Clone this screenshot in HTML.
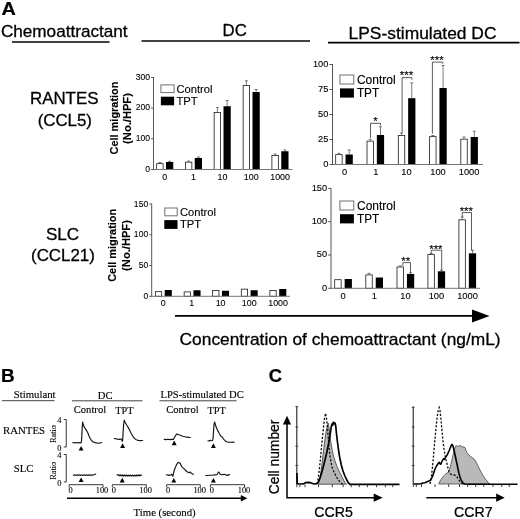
<!DOCTYPE html>
<html><head><meta charset="utf-8"><title>Figure</title>
<style>
html,body{margin:0;padding:0;background:#fff;}
body{width:520px;height:519px;overflow:hidden;font-family:"Liberation Sans",sans-serif;}
svg{display:block;filter:grayscale(1) blur(0.35px);will-change:transform;}
.ss{font-family:"Liberation Sans",sans-serif;fill:#000;stroke:#000;}
.sr{font-family:"Liberation Serif",serif;fill:#000;stroke:#000;}
</style></head><body>
<svg width="520" height="519" viewBox="0 0 520 519">
<rect x="0" y="0" width="520" height="519" fill="#fff"/>

<text class="ss" transform="translate(1.5,14.5) scale(1.1,1.0)" font-size="18" text-anchor="start" font-weight="bold" stroke-width="0.216" >A</text>
<text class="ss" x="0.9" y="37" font-size="17.15" text-anchor="start" font-weight="normal" stroke-width="0.3" >Chemoattractant</text>
<line x1="12" y1="42" x2="109.5" y2="42" stroke="#000" stroke-width="1.6"/>
<text class="ss" x="234.7" y="36.1" font-size="16.8" text-anchor="middle" font-weight="normal" stroke-width="0.294" >DC</text>
<line x1="141.5" y1="41" x2="310" y2="41" stroke="#000" stroke-width="1.5"/>
<text class="ss" x="348.6" y="38.8" font-size="17.4" text-anchor="start" font-weight="normal" stroke-width="0.304" >LPS-stimulated DC</text>
<line x1="328" y1="42.6" x2="519.5" y2="42.6" stroke="#000" stroke-width="1.6"/>
<text class="ss" transform="translate(64.2,103.8) scale(1.03,1.0)" font-size="16.4" text-anchor="middle" font-weight="normal" stroke-width="0.287" >RANTES</text>
<text class="ss" transform="translate(64.8,126.1) scale(1.03,1.0)" font-size="16.4" text-anchor="middle" font-weight="normal" stroke-width="0.287" >(CCL5)</text>
<text class="ss" transform="translate(62.5,239.6) scale(1.04,1.0)" font-size="16.4" text-anchor="middle" font-weight="normal" stroke-width="0.287" >SLC</text>
<text class="ss" transform="translate(62.9,261.3) scale(1.03,1.0)" font-size="16.4" text-anchor="middle" font-weight="normal" stroke-width="0.287" >(CCL21)</text>
<text class="ss" transform="translate(118.2,118) rotate(-90)" font-size="11.5" text-anchor="middle" font-weight="bold" stroke-width="0.138" textLength="73" lengthAdjust="spacingAndGlyphs">Cell migration</text>
<text class="ss" transform="translate(130.8,118.5) rotate(-90)" font-size="11.5" text-anchor="middle" font-weight="bold" stroke-width="0.138" textLength="50.8" lengthAdjust="spacingAndGlyphs">(No./HPF)</text>
<text class="ss" transform="translate(116.3,245.3) rotate(-90)" font-size="11.5" text-anchor="middle" font-weight="bold" stroke-width="0.138" textLength="73" lengthAdjust="spacingAndGlyphs">Cell migration</text>
<text class="ss" transform="translate(129.8,245.5) rotate(-90)" font-size="11.5" text-anchor="middle" font-weight="bold" stroke-width="0.138" textLength="50.8" lengthAdjust="spacingAndGlyphs">(No./HPF)</text>
<rect x="156.65" y="163.65" width="6.45" height="5.85" fill="#fff" stroke="#1a1a1a" stroke-width="0.8"/>
<line x1="159.875" y1="163.25" x2="159.875" y2="162.5" stroke="#444" stroke-width="0.7"/>
<line x1="158.375" y1="162.5" x2="161.375" y2="162.5" stroke="#444" stroke-width="0.7"/>
<rect x="166.0" y="162" width="7.25" height="7.5" fill="#000"/>
<line x1="169.625" y1="162" x2="169.625" y2="161.3" stroke="#444" stroke-width="0.7"/>
<line x1="168.125" y1="161.3" x2="171.125" y2="161.3" stroke="#444" stroke-width="0.7"/>
<rect x="185.4" y="162.15" width="6.45" height="7.35" fill="#fff" stroke="#1a1a1a" stroke-width="0.8"/>
<line x1="188.625" y1="161.75" x2="188.625" y2="161" stroke="#444" stroke-width="0.7"/>
<line x1="187.125" y1="161" x2="190.125" y2="161" stroke="#444" stroke-width="0.7"/>
<rect x="194.75" y="158" width="7.25" height="11.5" fill="#000"/>
<line x1="198.375" y1="158" x2="198.375" y2="157" stroke="#444" stroke-width="0.7"/>
<line x1="196.875" y1="157" x2="199.875" y2="157" stroke="#444" stroke-width="0.7"/>
<rect x="214.15" y="112.4" width="6.45" height="57.1" fill="#fff" stroke="#1a1a1a" stroke-width="0.8"/>
<line x1="217.375" y1="112" x2="217.375" y2="107.5" stroke="#444" stroke-width="0.7"/>
<line x1="215.875" y1="107.5" x2="218.875" y2="107.5" stroke="#444" stroke-width="0.7"/>
<rect x="223.5" y="106.25" width="7.25" height="63.25" fill="#000"/>
<line x1="227.125" y1="106.25" x2="227.125" y2="100.5" stroke="#444" stroke-width="0.7"/>
<line x1="225.625" y1="100.5" x2="228.625" y2="100.5" stroke="#444" stroke-width="0.7"/>
<rect x="243.15" y="85.4" width="6.45" height="84.1" fill="#fff" stroke="#1a1a1a" stroke-width="0.8"/>
<line x1="246.375" y1="85" x2="246.375" y2="80.75" stroke="#444" stroke-width="0.7"/>
<line x1="244.875" y1="80.75" x2="247.875" y2="80.75" stroke="#444" stroke-width="0.7"/>
<rect x="252.5" y="92" width="7.25" height="77.5" fill="#000"/>
<line x1="256.125" y1="92" x2="256.125" y2="89.5" stroke="#444" stroke-width="0.7"/>
<line x1="254.625" y1="89.5" x2="257.625" y2="89.5" stroke="#444" stroke-width="0.7"/>
<rect x="271.9" y="155.4" width="6.45" height="14.1" fill="#fff" stroke="#1a1a1a" stroke-width="0.8"/>
<line x1="275.125" y1="155" x2="275.125" y2="154" stroke="#444" stroke-width="0.7"/>
<line x1="273.625" y1="154" x2="276.625" y2="154" stroke="#444" stroke-width="0.7"/>
<rect x="281.25" y="151.25" width="7.25" height="18.25" fill="#000"/>
<line x1="284.875" y1="151.25" x2="284.875" y2="150" stroke="#444" stroke-width="0.7"/>
<line x1="283.375" y1="150" x2="286.375" y2="150" stroke="#444" stroke-width="0.7"/>
<line x1="153.5" y1="77.0" x2="153.5" y2="170.0" stroke="#555" stroke-width="1.0"/>
<line x1="153.0" y1="169.5" x2="292.5" y2="169.5" stroke="#777" stroke-width="1.0"/>
<line x1="151.1" y1="77.5" x2="153.5" y2="77.5" stroke="#555" stroke-width="1.0"/>
<text class="ss" transform="translate(150.0,79.75873) scale(1.0,1.07)" font-size="8.6" text-anchor="end" font-weight="normal" stroke-width="0.095" >300</text>
<line x1="151.1" y1="108.2" x2="153.5" y2="108.2" stroke="#555" stroke-width="1.0"/>
<text class="ss" transform="translate(150.0,110.45873) scale(1.0,1.07)" font-size="8.6" text-anchor="end" font-weight="normal" stroke-width="0.095" >200</text>
<line x1="151.1" y1="138.8" x2="153.5" y2="138.8" stroke="#555" stroke-width="1.0"/>
<text class="ss" transform="translate(150.0,141.05873000000003) scale(1.0,1.07)" font-size="8.6" text-anchor="end" font-weight="normal" stroke-width="0.095" >100</text>
<line x1="151.1" y1="169.5" x2="153.5" y2="169.5" stroke="#555" stroke-width="1.0"/>
<text class="ss" transform="translate(150.0,171.75873) scale(1.0,1.07)" font-size="8.6" text-anchor="end" font-weight="normal" stroke-width="0.095" >0</text>
<text class="ss" transform="translate(164.7,179.7) scale(1.0,1.04)" font-size="8.9" text-anchor="middle" font-weight="normal" stroke-width="0.098" >0</text>
<text class="ss" transform="translate(193.5,179.7) scale(1.0,1.04)" font-size="8.9" text-anchor="middle" font-weight="normal" stroke-width="0.098" >1</text>
<text class="ss" transform="translate(222.5,179.7) scale(1.0,1.04)" font-size="8.9" text-anchor="middle" font-weight="normal" stroke-width="0.098" >10</text>
<text class="ss" transform="translate(251.25,179.7) scale(1.0,1.04)" font-size="8.9" text-anchor="middle" font-weight="normal" stroke-width="0.098" >100</text>
<text class="ss" transform="translate(280.1,179.7) scale(1.0,1.04)" font-size="8.9" text-anchor="middle" font-weight="normal" stroke-width="0.098" >1000</text>
<rect x="160.9" y="84.9" width="13.2" height="7.699999999999999" fill="#fff" stroke="#707070" stroke-width="1"/>
<text class="ss" transform="translate(176.4,92.5) scale(1.0,1.04)" font-size="11.2" text-anchor="start" font-weight="normal" stroke-width="0.123" >Control</text>
<rect x="160.9" y="96.7" width="13.2" height="8.6" fill="#000"/>
<text class="ss" transform="translate(176.4,104.8) scale(1.0,1.04)" font-size="11.2" text-anchor="start" font-weight="normal" stroke-width="0.123" >TPT</text>
<rect x="335.7" y="154.65" width="6.45" height="9.85" fill="#fff" stroke="#1a1a1a" stroke-width="0.8"/>
<line x1="338.925" y1="154.25" x2="338.925" y2="153.3" stroke="#444" stroke-width="0.7"/>
<line x1="337.425" y1="153.3" x2="340.425" y2="153.3" stroke="#444" stroke-width="0.7"/>
<rect x="345.55" y="154.5" width="7.25" height="10.0" fill="#000"/>
<line x1="349.175" y1="154.5" x2="349.175" y2="150" stroke="#444" stroke-width="0.7"/>
<line x1="347.675" y1="150" x2="350.675" y2="150" stroke="#444" stroke-width="0.7"/>
<rect x="367.0" y="141.15" width="6.45" height="23.35" fill="#fff" stroke="#1a1a1a" stroke-width="0.8"/>
<line x1="370.225" y1="140.75" x2="370.225" y2="139.25" stroke="#444" stroke-width="0.7"/>
<line x1="368.725" y1="139.25" x2="371.725" y2="139.25" stroke="#444" stroke-width="0.7"/>
<rect x="376.85" y="135" width="7.25" height="29.5" fill="#000"/>
<line x1="380.475" y1="135" x2="380.475" y2="126.75" stroke="#444" stroke-width="0.7"/>
<line x1="378.975" y1="126.75" x2="381.975" y2="126.75" stroke="#444" stroke-width="0.7"/>
<rect x="398.29999999999995" y="135.4" width="6.45" height="29.1" fill="#fff" stroke="#1a1a1a" stroke-width="0.8"/>
<line x1="401.525" y1="135" x2="401.525" y2="133" stroke="#444" stroke-width="0.7"/>
<line x1="400.025" y1="133" x2="403.025" y2="133" stroke="#444" stroke-width="0.7"/>
<rect x="408.15" y="98.2" width="7.25" height="66.3" fill="#000"/>
<line x1="411.775" y1="98.2" x2="411.775" y2="82.9" stroke="#444" stroke-width="0.7"/>
<line x1="410.275" y1="82.9" x2="413.275" y2="82.9" stroke="#444" stroke-width="0.7"/>
<rect x="429.59999999999997" y="136.65" width="6.45" height="27.85" fill="#fff" stroke="#1a1a1a" stroke-width="0.8"/>
<line x1="432.825" y1="136.25" x2="432.825" y2="135.5" stroke="#444" stroke-width="0.7"/>
<line x1="431.325" y1="135.5" x2="434.325" y2="135.5" stroke="#444" stroke-width="0.7"/>
<rect x="439.45" y="88" width="7.25" height="76.5" fill="#000"/>
<line x1="443.075" y1="88" x2="443.075" y2="65.5" stroke="#444" stroke-width="0.7"/>
<line x1="441.575" y1="65.5" x2="444.575" y2="65.5" stroke="#444" stroke-width="0.7"/>
<rect x="460.79999999999995" y="139.15" width="6.45" height="25.35" fill="#fff" stroke="#1a1a1a" stroke-width="0.8"/>
<line x1="464.025" y1="138.75" x2="464.025" y2="137" stroke="#444" stroke-width="0.7"/>
<line x1="462.525" y1="137" x2="465.525" y2="137" stroke="#444" stroke-width="0.7"/>
<rect x="470.65" y="137" width="7.25" height="27.5" fill="#000"/>
<line x1="474.275" y1="137" x2="474.275" y2="131.25" stroke="#444" stroke-width="0.7"/>
<line x1="472.775" y1="131.25" x2="475.775" y2="131.25" stroke="#444" stroke-width="0.7"/>
<line x1="332.5" y1="64.0" x2="332.5" y2="165.0" stroke="#555" stroke-width="1.0"/>
<line x1="332.0" y1="164.5" x2="483" y2="164.5" stroke="#777" stroke-width="1.0"/>
<line x1="329.4" y1="64.5" x2="332.5" y2="64.5" stroke="#555" stroke-width="1.0"/>
<text class="ss" transform="translate(328.4,66.682115) scale(1.0,1.07)" font-size="9.3" text-anchor="end" font-weight="normal" stroke-width="0.102" >100</text>
<line x1="329.4" y1="89.5" x2="332.5" y2="89.5" stroke="#555" stroke-width="1.0"/>
<text class="ss" transform="translate(328.4,91.682115) scale(1.0,1.07)" font-size="9.3" text-anchor="end" font-weight="normal" stroke-width="0.102" >75</text>
<line x1="329.4" y1="114.5" x2="332.5" y2="114.5" stroke="#555" stroke-width="1.0"/>
<text class="ss" transform="translate(328.4,116.682115) scale(1.0,1.07)" font-size="9.3" text-anchor="end" font-weight="normal" stroke-width="0.102" >50</text>
<line x1="329.4" y1="139.5" x2="332.5" y2="139.5" stroke="#555" stroke-width="1.0"/>
<text class="ss" transform="translate(328.4,141.682115) scale(1.0,1.07)" font-size="9.3" text-anchor="end" font-weight="normal" stroke-width="0.102" >25</text>
<line x1="329.4" y1="164.5" x2="332.5" y2="164.5" stroke="#555" stroke-width="1.0"/>
<text class="ss" transform="translate(328.4,166.682115) scale(1.0,1.07)" font-size="9.3" text-anchor="end" font-weight="normal" stroke-width="0.102" >0</text>
<text class="ss" transform="translate(344.6,174.65) scale(1.0,1.04)" font-size="9.3" text-anchor="middle" font-weight="normal" stroke-width="0.102" >0</text>
<text class="ss" transform="translate(375.75,174.65) scale(1.0,1.04)" font-size="9.3" text-anchor="middle" font-weight="normal" stroke-width="0.102" >1</text>
<text class="ss" transform="translate(406.5,174.65) scale(1.0,1.04)" font-size="9.3" text-anchor="middle" font-weight="normal" stroke-width="0.102" >10</text>
<text class="ss" transform="translate(438,174.65) scale(1.0,1.04)" font-size="9.3" text-anchor="middle" font-weight="normal" stroke-width="0.102" >100</text>
<text class="ss" transform="translate(469.1,174.65) scale(1.0,1.04)" font-size="9.3" text-anchor="middle" font-weight="normal" stroke-width="0.102" >1000</text>
<rect x="339.9" y="75.0" width="13.9" height="9" fill="#fff" stroke="#707070" stroke-width="1"/>
<text class="ss" transform="translate(356.9,83.8) scale(1.0,1.02)" font-size="12.0" text-anchor="start" font-weight="normal" stroke-width="0.132" >Control</text>
<rect x="340" y="88.4" width="13.9" height="9.2" fill="#000"/>
<text class="ss" transform="translate(356.9,97.1) scale(1.0,1.02)" font-size="11.8" text-anchor="start" font-weight="normal" stroke-width="0.13" >TPT</text>
<polyline points="370.5,138 370.5,123.3 380.5,123.3 380.5,125.5" fill="none" stroke="#333" stroke-width="0.8"/>
<text class="ss" x="375.5" y="124.9" font-size="11.4" text-anchor="middle" font-weight="normal" stroke-width="0.125" >*</text>
<polyline points="402.1,132.5 402.1,77.6 411.9,77.6 411.9,79.8" fill="none" stroke="#333" stroke-width="0.8"/>
<text class="ss" x="406.5" y="79.2" font-size="11.4" text-anchor="middle" font-weight="normal" stroke-width="0.125" >***</text>
<polyline points="432.4,133.75 432.4,62.1 442.8,62.1 442.8,63.7" fill="none" stroke="#333" stroke-width="0.8"/>
<text class="ss" x="437" y="63.7" font-size="11.4" text-anchor="middle" font-weight="normal" stroke-width="0.125" >***</text>
<rect x="155.4" y="291.65" width="6.3" height="4.650000000000011" fill="#fff" stroke="#1a1a1a" stroke-width="0.8"/>
<rect x="164.7" y="290" width="7.1" height="6.300000000000011" fill="#000"/>
<rect x="184.15" y="291.9" width="6.3" height="4.400000000000011" fill="#fff" stroke="#1a1a1a" stroke-width="0.8"/>
<rect x="193.45" y="290.25" width="7.1" height="6.050000000000011" fill="#000"/>
<rect x="212.65" y="290.4" width="6.3" height="5.900000000000011" fill="#fff" stroke="#1a1a1a" stroke-width="0.8"/>
<rect x="221.95" y="290.75" width="7.1" height="5.550000000000011" fill="#000"/>
<rect x="241.3" y="289.15" width="6.3" height="7.150000000000011" fill="#fff" stroke="#1a1a1a" stroke-width="0.8"/>
<rect x="250.6" y="290.25" width="7.1" height="6.050000000000011" fill="#000"/>
<rect x="269.9" y="290.4" width="6.3" height="5.900000000000011" fill="#fff" stroke="#1a1a1a" stroke-width="0.8"/>
<rect x="279.2" y="289" width="7.1" height="7.300000000000011" fill="#000"/>
<line x1="151.7" y1="203.5" x2="151.7" y2="296.8" stroke="#555" stroke-width="1.0"/>
<line x1="151.2" y1="296.3" x2="290" y2="296.3" stroke="#777" stroke-width="1.0"/>
<line x1="149.29999999999998" y1="204" x2="151.7" y2="204" stroke="#555" stroke-width="1.0"/>
<text class="ss" transform="translate(148.2,206.55873) scale(1.0,1.07)" font-size="8.6" text-anchor="end" font-weight="normal" stroke-width="0.095" >150</text>
<line x1="149.29999999999998" y1="234.8" x2="151.7" y2="234.8" stroke="#555" stroke-width="1.0"/>
<text class="ss" transform="translate(148.2,237.35873) scale(1.0,1.07)" font-size="8.6" text-anchor="end" font-weight="normal" stroke-width="0.095" >100</text>
<line x1="149.29999999999998" y1="265.5" x2="151.7" y2="265.5" stroke="#555" stroke-width="1.0"/>
<text class="ss" transform="translate(148.2,268.05872999999997) scale(1.0,1.07)" font-size="8.6" text-anchor="end" font-weight="normal" stroke-width="0.095" >50</text>
<line x1="149.29999999999998" y1="296.3" x2="151.7" y2="296.3" stroke="#555" stroke-width="1.0"/>
<text class="ss" transform="translate(148.2,298.85873) scale(1.0,1.07)" font-size="8.6" text-anchor="end" font-weight="normal" stroke-width="0.095" >0</text>
<text class="ss" transform="translate(163.1,306.4) scale(1.0,1.04)" font-size="8.9" text-anchor="middle" font-weight="normal" stroke-width="0.098" >0</text>
<text class="ss" transform="translate(191.75,306.4) scale(1.0,1.04)" font-size="8.9" text-anchor="middle" font-weight="normal" stroke-width="0.098" >1</text>
<text class="ss" transform="translate(220.6,306.4) scale(1.0,1.04)" font-size="8.9" text-anchor="middle" font-weight="normal" stroke-width="0.098" >10</text>
<text class="ss" transform="translate(249.25,306.4) scale(1.0,1.04)" font-size="8.9" text-anchor="middle" font-weight="normal" stroke-width="0.098" >100</text>
<text class="ss" transform="translate(278.1,306.4) scale(1.0,1.04)" font-size="8.9" text-anchor="middle" font-weight="normal" stroke-width="0.098" >1000</text>
<rect x="164.8" y="208.0" width="12.4" height="7.800000000000001" fill="#fff" stroke="#707070" stroke-width="1"/>
<text class="ss" transform="translate(179.9,215.7) scale(1.0,1.04)" font-size="11.2" text-anchor="start" font-weight="normal" stroke-width="0.123" >Control</text>
<rect x="164.3" y="220.1" width="13.2" height="8.8" fill="#000"/>
<text class="ss" transform="translate(179.9,227.9) scale(1.0,1.04)" font-size="11.2" text-anchor="start" font-weight="normal" stroke-width="0.123" >TPT</text>
<rect x="334.7" y="279.7" width="6.45" height="8.6" fill="#fff" stroke="#1a1a1a" stroke-width="0.8"/>
<rect x="344.65000000000003" y="279" width="7.25" height="9.300000000000011" fill="#000"/>
<rect x="365.79999999999995" y="274.9" width="6.45" height="13.400000000000011" fill="#fff" stroke="#1a1a1a" stroke-width="0.8"/>
<line x1="369.025" y1="274.5" x2="369.025" y2="273.3" stroke="#444" stroke-width="0.7"/>
<line x1="367.525" y1="273.3" x2="370.525" y2="273.3" stroke="#444" stroke-width="0.7"/>
<rect x="375.75" y="277.5" width="7.25" height="10.800000000000011" fill="#000"/>
<rect x="397.0" y="267.0" width="6.45" height="21.29999999999999" fill="#fff" stroke="#1a1a1a" stroke-width="0.8"/>
<line x1="400.225" y1="266.6" x2="400.225" y2="265.8" stroke="#444" stroke-width="0.7"/>
<line x1="398.725" y1="265.8" x2="401.725" y2="265.8" stroke="#444" stroke-width="0.7"/>
<rect x="406.95000000000005" y="274" width="7.25" height="14.300000000000011" fill="#000"/>
<line x1="410.57500000000005" y1="274" x2="410.57500000000005" y2="272.7" stroke="#444" stroke-width="0.7"/>
<line x1="409.07500000000005" y1="272.7" x2="412.07500000000005" y2="272.7" stroke="#444" stroke-width="0.7"/>
<rect x="427.9" y="254.6" width="6.45" height="33.700000000000024" fill="#fff" stroke="#1a1a1a" stroke-width="0.8"/>
<line x1="431.125" y1="254.2" x2="431.125" y2="253.4" stroke="#444" stroke-width="0.7"/>
<line x1="429.625" y1="253.4" x2="432.625" y2="253.4" stroke="#444" stroke-width="0.7"/>
<rect x="437.85" y="271.3" width="7.25" height="17.0" fill="#000"/>
<line x1="441.475" y1="271.3" x2="441.475" y2="270.1" stroke="#444" stroke-width="0.7"/>
<line x1="439.975" y1="270.1" x2="442.975" y2="270.1" stroke="#444" stroke-width="0.7"/>
<rect x="458.9" y="219.8" width="6.45" height="68.5" fill="#fff" stroke="#1a1a1a" stroke-width="0.8"/>
<line x1="462.125" y1="219.4" x2="462.125" y2="217" stroke="#444" stroke-width="0.7"/>
<line x1="460.625" y1="217" x2="463.625" y2="217" stroke="#444" stroke-width="0.7"/>
<rect x="468.85" y="253.3" width="7.25" height="35.0" fill="#000"/>
<line x1="472.475" y1="253.3" x2="472.475" y2="250.2" stroke="#444" stroke-width="0.7"/>
<line x1="470.975" y1="250.2" x2="473.975" y2="250.2" stroke="#444" stroke-width="0.7"/>
<line x1="331" y1="187.9" x2="331" y2="288.8" stroke="#555" stroke-width="1.0"/>
<line x1="330.5" y1="288.3" x2="480" y2="288.3" stroke="#777" stroke-width="1.0"/>
<line x1="328.2" y1="188.4" x2="331" y2="188.4" stroke="#555" stroke-width="1.0"/>
<text class="ss" transform="translate(327.2,190.83211500000002) scale(1.0,1.07)" font-size="9.3" text-anchor="end" font-weight="normal" stroke-width="0.102" >150</text>
<line x1="328.2" y1="221.7" x2="331" y2="221.7" stroke="#555" stroke-width="1.0"/>
<text class="ss" transform="translate(327.2,224.132115) scale(1.0,1.07)" font-size="9.3" text-anchor="end" font-weight="normal" stroke-width="0.102" >100</text>
<line x1="328.2" y1="255" x2="331" y2="255" stroke="#555" stroke-width="1.0"/>
<text class="ss" transform="translate(327.2,257.432115) scale(1.0,1.07)" font-size="9.3" text-anchor="end" font-weight="normal" stroke-width="0.102" >50</text>
<line x1="328.2" y1="288.3" x2="331" y2="288.3" stroke="#555" stroke-width="1.0"/>
<text class="ss" transform="translate(327.2,290.732115) scale(1.0,1.07)" font-size="9.3" text-anchor="end" font-weight="normal" stroke-width="0.102" >0</text>
<text class="ss" transform="translate(343.2,299.45) scale(1.0,1.04)" font-size="9.3" text-anchor="middle" font-weight="normal" stroke-width="0.102" >0</text>
<text class="ss" transform="translate(374.25,299.45) scale(1.0,1.04)" font-size="9.3" text-anchor="middle" font-weight="normal" stroke-width="0.102" >1</text>
<text class="ss" transform="translate(405.5,299.45) scale(1.0,1.04)" font-size="9.3" text-anchor="middle" font-weight="normal" stroke-width="0.102" >10</text>
<text class="ss" transform="translate(436.4,299.45) scale(1.0,1.04)" font-size="9.3" text-anchor="middle" font-weight="normal" stroke-width="0.102" >100</text>
<text class="ss" transform="translate(467.5,299.45) scale(1.0,1.04)" font-size="9.3" text-anchor="middle" font-weight="normal" stroke-width="0.102" >1000</text>
<rect x="339.9" y="201.0" width="13.9" height="9" fill="#fff" stroke="#707070" stroke-width="1"/>
<text class="ss" transform="translate(357,209.8) scale(1.0,1.02)" font-size="12.0" text-anchor="start" font-weight="normal" stroke-width="0.132" >Control</text>
<rect x="340" y="214.2" width="13.9" height="9.2" fill="#000"/>
<text class="ss" transform="translate(357,223.1) scale(1.0,1.02)" font-size="11.8" text-anchor="start" font-weight="normal" stroke-width="0.13" >TPT</text>
<polyline points="402.9,265.8 402.9,262.6 410.5,262.6 410.5,272.7" fill="none" stroke="#333" stroke-width="0.8"/>
<text class="ss" x="405.8" y="265.1" font-size="11.4" text-anchor="middle" font-weight="normal" stroke-width="0.125" >**</text>
<polyline points="431.2,253.4 431.2,250.2 441.7,250.2 441.7,270.1" fill="none" stroke="#333" stroke-width="0.8"/>
<text class="ss" x="435.9" y="252.7" font-size="11.4" text-anchor="middle" font-weight="normal" stroke-width="0.125" >***</text>
<polyline points="462.3,217 462.3,212.5 471.5,212.5 471.5,250.2" fill="none" stroke="#333" stroke-width="0.8"/>
<text class="ss" x="466.3" y="215.0" font-size="11.4" text-anchor="middle" font-weight="normal" stroke-width="0.125" >***</text>
<line x1="175" y1="315.8" x2="474" y2="315.8" stroke="#000" stroke-width="1.7"/>
<polygon points="472,309.5 489.5,316 472,322.5" fill="#000"/>
<text class="ss" x="179.6" y="345.4" font-size="17.35" text-anchor="start" font-weight="normal" stroke-width="0.304" >Concentration of chemoattractant (ng/mL)</text>
<text class="ss" transform="translate(0.9,381.7) scale(1.08,1.0)" font-size="17.5" text-anchor="start" font-weight="bold" stroke-width="0.21" >B</text>
<text class="sr" x="13.75" y="398" font-size="10.75" text-anchor="start" font-weight="normal" stroke-width="0.129" >Stimulant</text>
<line x1="2" y1="400.7" x2="54.5" y2="400.7" stroke="#444" stroke-width="1"/>
<text class="sr" x="105.2" y="398.5" font-size="10.6" text-anchor="middle" font-weight="normal" stroke-width="0.127" >DC</text>
<line x1="72" y1="400.8" x2="142.5" y2="400.8" stroke="#444" stroke-width="1"/>
<text class="sr" x="160.5" y="398.4" font-size="10.6" text-anchor="start" font-weight="normal" stroke-width="0.127" >LPS-stimulated DC</text>
<line x1="159.5" y1="400.8" x2="236.5" y2="400.8" stroke="#444" stroke-width="1"/>
<text class="sr" x="73.75" y="412.6" font-size="10.6" text-anchor="start" font-weight="normal" stroke-width="0.127" >Control</text>
<text class="sr" x="115.3" y="414.2" font-size="10.3" text-anchor="start" font-weight="normal" stroke-width="0.124" >TPT</text>
<text class="sr" x="166.25" y="412.6" font-size="10.6" text-anchor="start" font-weight="normal" stroke-width="0.127" >Control</text>
<text class="sr" x="207.5" y="414.2" font-size="10.3" text-anchor="start" font-weight="normal" stroke-width="0.124" >TPT</text>
<text class="sr" x="3" y="434.4" font-size="10.8" text-anchor="start" font-weight="normal" stroke-width="0.13" >RANTES</text>
<text class="sr" x="13.75" y="472" font-size="10.8" text-anchor="start" font-weight="normal" stroke-width="0.13" >SLC</text>
<text class="sr" transform="translate(55.8,434) rotate(-90)" font-size="8.3" text-anchor="middle" font-weight="normal" stroke-width="0.1">Ratio</text>
<text class="sr" transform="translate(55.8,470.8) rotate(-90)" font-size="8.3" text-anchor="middle" font-weight="normal" stroke-width="0.1">Ratio</text>
<polyline points="63.75,419.5 66.25,419.5 66.25,447 63.75,447" fill="none" stroke="#222" stroke-width="0.9"/>
<text class="sr" x="59.25" y="423.4" font-size="8.4" text-anchor="middle" font-weight="normal" stroke-width="0.101" >4</text>
<text class="sr" x="59.25" y="451.1" font-size="8.4" text-anchor="middle" font-weight="normal" stroke-width="0.101" >0</text>
<polyline points="63.75,454.5 66.25,454.5 66.25,482 63.75,482" fill="none" stroke="#222" stroke-width="0.9"/>
<text class="sr" x="59.25" y="458.4" font-size="8.4" text-anchor="middle" font-weight="normal" stroke-width="0.101" >4</text>
<text class="sr" x="59.25" y="486.1" font-size="8.4" text-anchor="middle" font-weight="normal" stroke-width="0.101" >0</text>
<polyline points="69.1,487.2 69.1,484.7 103,484.7 103,487.2" fill="none" stroke="#222" stroke-width="0.9"/>
<text class="sr" x="70.6" y="493.2" font-size="8.4" text-anchor="middle" font-weight="normal" stroke-width="0.101" >0</text>
<text class="sr" x="102" y="493.2" font-size="8.4" text-anchor="middle" font-weight="normal" stroke-width="0.101" >100</text>
<polyline points="112.3,487.2 112.3,484.7 146.3,484.7 146.3,487.2" fill="none" stroke="#222" stroke-width="0.9"/>
<text class="sr" x="113.8" y="493.2" font-size="8.4" text-anchor="middle" font-weight="normal" stroke-width="0.101" >0</text>
<text class="sr" x="145.6" y="493.2" font-size="8.4" text-anchor="middle" font-weight="normal" stroke-width="0.101" >100</text>
<polyline points="166.7,487.2 166.7,484.7 200.3,484.7 200.3,487.2" fill="none" stroke="#222" stroke-width="0.9"/>
<text class="sr" x="168.2" y="493.2" font-size="8.4" text-anchor="middle" font-weight="normal" stroke-width="0.101" >0</text>
<text class="sr" x="199.7" y="493.2" font-size="8.4" text-anchor="middle" font-weight="normal" stroke-width="0.101" >100</text>
<polyline points="210.4,487.2 210.4,484.7 244.5,484.7 244.5,487.2" fill="none" stroke="#222" stroke-width="0.9"/>
<text class="sr" x="211.9" y="493.2" font-size="8.4" text-anchor="middle" font-weight="normal" stroke-width="0.101" >0</text>
<text class="sr" x="244" y="493.2" font-size="8.4" text-anchor="middle" font-weight="normal" stroke-width="0.101" >100</text>
<line x1="67" y1="498.2" x2="242" y2="498.2" stroke="#000" stroke-width="1.5"/>
<polygon points="240.8,494.9 247.4,498.2 240.8,501.5" fill="#000"/>
<text class="sr" x="133.6" y="515.7" font-size="10.75" text-anchor="start" font-weight="normal" stroke-width="0.129" >Time (second)</text>
<polyline points="72.9,442.8 74.2,442.5 75.4,443 76.6,442.5 77.8,443 79,442.5 80.2,442.9 81.2,442.6 81.6,440 82,431 82.6,422 83.3,424.5 84.2,427.1 85.2,428.4 86.2,430.2 87.1,431.5 88,433.2 88.8,435.5 89.5,437.1 90.3,438.6 91.1,439.8 92.2,441.2 93.4,442 95,442.6 96.5,442.9 98,443.1 99.6,443.2 100.8,442.7 101.8,442.5" fill="none" stroke="#111" stroke-width="1.15" stroke-linejoin="round" stroke-linecap="round"/>
<polygon points="78.64999999999999,450.5 81.1,445.9 83.55,450.5" fill="#000"/>
<polyline points="114.5,438.6 116,438.8 117.5,439.3 118.8,439.4 120,439.1 121.2,439 121.8,440.2 122.2,441.4 122.7,440 123.1,432 123.7,424 124.2,420.2 125.2,422.5 126.5,424.8 127.6,426.5 128.8,428.6 130,431 131.1,433.2 132.2,435.2 133.4,437.1 134.5,438.4 135.7,439.4 137.2,440.1 138.8,440.5 140.5,440.6 142.6,440.5" fill="none" stroke="#111" stroke-width="1.15" stroke-linejoin="round" stroke-linecap="round"/>
<polygon points="120.14999999999999,447.90000000000003 122.6,443.3 125.05,447.90000000000003" fill="#000"/>
<polyline points="73.4,475.2 74.6,474.8 75.8,475.4 77,474.8 78.2,475.4 79.4,474.8 80.6,475.4 81.8,474.8 83,475.4 84.2,474.8 85.4,475.4 86.6,474.8 87.8,475.4 89,474.8 90.2,475.4 91.4,474.8 92.6,475.3 93.8,474.7 94.8,474.5 95.7,474.0" fill="none" stroke="#111" stroke-width="1.15" stroke-linejoin="round" stroke-linecap="round"/>
<polygon points="78.64999999999999,482.1 81.1,477.5 83.55,482.1" fill="#000"/>
<polyline points="117.2,474.9 118.4,475.0 119.4,475.6 120.4,475.0 121.4,475.8 122.4,475.1 123.4,475.9 124.4,475.1 125.4,475.8 126.4,475.2 127.4,475.9 128.4,475.2 129.4,475.9 130.4,475.2 131.4,475.9 132.4,475.2 133.4,475.9 134.4,475.2 135.4,475.9 136.4,475.2 137.4,475.8 138.4,475.1 139.4,475.7 140.3,475.1 141.1,475.3" fill="none" stroke="#111" stroke-width="1.4" stroke-linejoin="round" stroke-linecap="round"/>
<polygon points="119.75,482.40000000000003 122.2,477.8 124.65,482.40000000000003" fill="#000"/>
<polyline points="164.2,439.4 166,439.6 168,439.3 170,439.6 172,439.4 173.4,439.4 174.2,438 175.2,436.2 176.2,434.6 176.8,434 177.8,434.3 179,434.8 181,435.5 183,436.2 184.9,436.8 187,437.1 189,437.4 190.3,437.5" fill="none" stroke="#111" stroke-width="1.15" stroke-linejoin="round" stroke-linecap="round"/>
<polygon points="171.75,445.20000000000005 174.2,440.6 176.64999999999998,445.20000000000005" fill="#000"/>
<polyline points="166.5,474.8 168,475.1 169.5,475.4 170.8,474.8 171.8,474.3 172.4,475.5 172.9,476.3 173.4,474 174.2,470.5 175,468.3 175.7,466.6 176.7,464.5 177.7,462.8 178.8,462.4 179.6,462.9 180.3,463.5 181,465.2 181.8,466.6 183,467.8 184.2,468.9 185.3,470.2 186.5,471.2 187.6,472.1 188.8,472.8 189.6,472.2 190.3,472 191,473 191.8,473.5 192.6,474 193.4,474.3" fill="none" stroke="#111" stroke-width="1.15" stroke-linejoin="round" stroke-linecap="round"/>
<polygon points="171.35000000000002,482.5 173.8,477.9 176.25,482.5" fill="#000"/>
<polyline points="208,440.9 209.2,441 210.2,440.3 211.2,440.8 212.6,440.5 213.1,438 213.6,430 214.1,424 214.6,422 215.3,424.5 216.2,427.1 217.1,429.2 218,430.9 218.8,432.6 219.5,434 220.5,435.5 221.4,436.8 222.3,437 223.2,438.5 224.2,439.8 225.3,440.9 226.5,441.7 228.4,442.1 230.3,442.2 232.2,442.4 233.4,442 234.2,442.2" fill="none" stroke="#111" stroke-width="1.15" stroke-linejoin="round" stroke-linecap="round"/>
<polygon points="210.95000000000002,447.90000000000003 213.4,443.3 215.85,447.90000000000003" fill="#000"/>
<polyline points="205.7,475.5 207.5,475.5 209.5,475.3 211.5,475.2 213.5,475 215,474.9 216.5,474.8 217.5,473.8 218.3,472.3 218.8,472 219.4,473 220.3,474.3 221.5,474.7 222.6,474.8 223.8,474.4 225,474.5 226.2,475.1 227.2,475.4 228.4,474.9 229.5,474.6" fill="none" stroke="#111" stroke-width="1.15" stroke-linejoin="round" stroke-linecap="round"/>
<polygon points="210.95000000000002,482.5 213.4,477.9 215.85,482.5" fill="#000"/>
<text class="ss" x="268.8" y="381.8" font-size="18.4" text-anchor="start" font-weight="bold" stroke-width="0.221" >C</text>
<text class="ss" transform="translate(279.3,456.9) rotate(-90)" font-size="14.1" text-anchor="middle" font-weight="normal" stroke-width="0.247" textLength="74.6" lengthAdjust="spacingAndGlyphs">Cell number</text>
<polyline points="287,424 287,497.7 374.5,497.7" fill="none" stroke="#000" stroke-width="1.5"/>
<polygon points="282.9,424.5 287,415.7 291.1,424.5" fill="#000"/>
<polygon points="373.7,493.6 382.7,497.7 373.7,501.8" fill="#000"/>
<text class="ss" x="333.6" y="517.1" font-size="14.15" text-anchor="middle" font-weight="normal" stroke-width="0.248" >CCR5</text>
<line x1="426.3" y1="497.7" x2="497" y2="497.7" stroke="#000" stroke-width="1.5"/>
<polygon points="496.2,493.6 504.7,497.7 496.2,501.8" fill="#000"/>
<text class="ss" x="473.3" y="517.1" font-size="14.15" text-anchor="middle" font-weight="normal" stroke-width="0.248" >CCR7</text>
<line x1="296.8" y1="406.2" x2="296.8" y2="484.8" stroke="#222" stroke-width="1.1"/>
<line x1="295.4" y1="406.7" x2="298.2" y2="406.7" stroke="#333" stroke-width="0.9"/>
<line x1="295.4" y1="427" x2="298.2" y2="427" stroke="#333" stroke-width="0.9"/>
<line x1="295.4" y1="446.2" x2="298.2" y2="446.2" stroke="#333" stroke-width="0.9"/>
<line x1="295.4" y1="465.5" x2="298.2" y2="465.5" stroke="#333" stroke-width="0.9"/>
<path d="M318,484.2 L319.3,481 L320.6,474 L322,464 L323.4,452 L324.9,440 L326.2,431 L327.3,426 L328.1,423 L329,427 L329.8,435 L330.5,440 L331.5,446 L333,454 L335,461 L337,466.5 L339,471 L341,475 L343,479 L345,482.5 L346.5,484.2 Z" fill="#b6b6b6" stroke="#222" stroke-width="0.7"/>
<path d="M317,484.2 L318.3,478 L319.5,468 L320.8,455 L322,442 L323.2,430 L324.3,420 L325.5,413.2 L326.5,418 L327.5,428 L328.5,440 L329.5,452 L330.8,461 L332,467 L334,472 L336,476 L338,479.5 L340,482 L342.5,484.2" fill="none" stroke="#111" stroke-width="1.3" stroke-dasharray="2.2,1.6"/>
<path d="M296.9,473 L297.2,483.5 L299,484 L302,484 L304,483.6 L306,482.6 L309,482.4 L312,483.2 L314,484 L316.5,483.6 L318,482.3 L319.3,480 L320.6,476.3 L322,471.5 L323.6,465.5 L325.2,459 L326.9,452 L328.5,444 L329.9,436 L331,428.5 L331.9,424 L332.6,425.3 L333.4,422.2 L334.3,423.8 L335.1,423.2 L335.8,426.5 L336.3,432 L337.1,439 L338.3,448.5 L339.7,457.5 L341.3,465 L343,471 L344.9,476 L346.8,480 L348.5,483 L350,484.3 L355,484.4 L399.5,484.4" fill="none" stroke="#000" stroke-width="1.7" stroke-linejoin="round"/>
<line x1="296.9" y1="484.5" x2="296.9" y2="487.2" stroke="#222" stroke-width="0.9"/>
<line x1="299.9" y1="484.5" x2="299.9" y2="487.2" stroke="#222" stroke-width="0.9"/>
<line x1="305" y1="484.5" x2="305" y2="487.2" stroke="#222" stroke-width="0.9"/>
<line x1="318.5" y1="484.5" x2="318.5" y2="487.2" stroke="#222" stroke-width="0.9"/>
<line x1="332.3" y1="484.5" x2="332.3" y2="487.2" stroke="#222" stroke-width="0.9"/>
<line x1="343.1" y1="484.5" x2="343.1" y2="487.2" stroke="#222" stroke-width="0.9"/>
<line x1="351.2" y1="484.5" x2="351.2" y2="487.2" stroke="#222" stroke-width="0.9"/>
<line x1="359.3" y1="484.5" x2="359.3" y2="487.2" stroke="#222" stroke-width="0.9"/>
<line x1="367.4" y1="484.5" x2="367.4" y2="487.2" stroke="#222" stroke-width="0.9"/>
<line x1="376.6" y1="484.5" x2="376.6" y2="487.2" stroke="#222" stroke-width="0.9"/>
<line x1="385.4" y1="484.5" x2="385.4" y2="487.2" stroke="#222" stroke-width="0.9"/>
<line x1="392.8" y1="484.5" x2="392.8" y2="487.2" stroke="#222" stroke-width="0.9"/>
<line x1="413.2" y1="406.4" x2="413.2" y2="484.6" stroke="#222" stroke-width="1.1"/>
<line x1="411.8" y1="407.3" x2="414.6" y2="407.3" stroke="#333" stroke-width="0.9"/>
<line x1="411.8" y1="427" x2="414.6" y2="427" stroke="#333" stroke-width="0.9"/>
<line x1="411.8" y1="446.2" x2="414.6" y2="446.2" stroke="#333" stroke-width="0.9"/>
<line x1="411.8" y1="465.5" x2="414.6" y2="465.5" stroke="#333" stroke-width="0.9"/>
<path d="M438.7,484 L440,481 L442,478 L444,475.5 L446,473.5 L447.5,473 L448.8,471.5 L450,468 L451.5,462 L453,455 L454.5,449 L456,445.5 L457.5,446.5 L459,445.5 L461,446 L463,447 L465,447.5 L466.5,452 L468,454 L470,456 L472,457.5 L474,459 L475.5,461 L477,464 L479,468 L481,472 L483,475.5 L485,478.5 L487,481 L489,483.5 L490,484 Z" fill="#b9b9b9" stroke="#333" stroke-width="0.7"/>
<path d="M430,484 L431.2,478 L432.4,468 L433.6,455 L434.8,441 L436,428 L437.2,417 L438.3,409.5 L439.2,407.5 L440,410.5 L441,420 L442,431 L443,441 L444,449 L445,455 L446,460 L447.3,465 L448.8,471.5 L450.5,474 L452.5,474.8 L455,475.2 L457,477 L459,480 L461,482.5 L462.5,484" fill="none" stroke="#111" stroke-width="1.3" stroke-dasharray="2.2,1.6"/>
<path d="M413.5,484 L418,484 L421,483.8 L423,483 L425,482.8 L427,481.8 L429,481 L430.5,480.2 L431.5,478.5 L432.5,476.5 L433.5,473.5 L434.5,470.5 L435.5,468 L436.5,466 L437.5,464.5 L438.5,463 L439.3,462.3 L440,463.7 L440.8,464.2 L441.7,462 L442.7,460 L443.7,458.8 L444.6,459.2 L445.5,457.5 L446.5,455.8 L447.5,454.4 L448.3,452.5 L449.2,450.5 L450.2,448 L451.2,445.5 L452,444.4 L452.8,445.5 L453.5,448 L454.3,451.5 L455.2,455.5 L456,459.5 L457,464 L458,469 L459,473.5 L460,477 L461,479.5 L462,481.5 L463,483 L464.5,484 L470,484.2 L517.5,484.2" fill="none" stroke="#000" stroke-width="1.6" stroke-linejoin="round"/>
<line x1="413.3" y1="484.3" x2="413.3" y2="487" stroke="#222" stroke-width="0.9"/>
<line x1="416.3" y1="484.3" x2="416.3" y2="487" stroke="#222" stroke-width="0.9"/>
<line x1="421.5" y1="484.3" x2="421.5" y2="487" stroke="#222" stroke-width="0.9"/>
<line x1="435" y1="484.3" x2="435" y2="487" stroke="#222" stroke-width="0.9"/>
<line x1="448.7" y1="484.3" x2="448.7" y2="487" stroke="#222" stroke-width="0.9"/>
<line x1="459.5" y1="484.3" x2="459.5" y2="487" stroke="#222" stroke-width="0.9"/>
<line x1="467.6" y1="484.3" x2="467.6" y2="487" stroke="#222" stroke-width="0.9"/>
<line x1="475.7" y1="484.3" x2="475.7" y2="487" stroke="#222" stroke-width="0.9"/>
<line x1="483.8" y1="484.3" x2="483.8" y2="487" stroke="#222" stroke-width="0.9"/>
<line x1="493" y1="484.3" x2="493" y2="487" stroke="#222" stroke-width="0.9"/>
<line x1="501.8" y1="484.3" x2="501.8" y2="487" stroke="#222" stroke-width="0.9"/>
<line x1="509.2" y1="484.3" x2="509.2" y2="487" stroke="#222" stroke-width="0.9"/>
</svg></body></html>
